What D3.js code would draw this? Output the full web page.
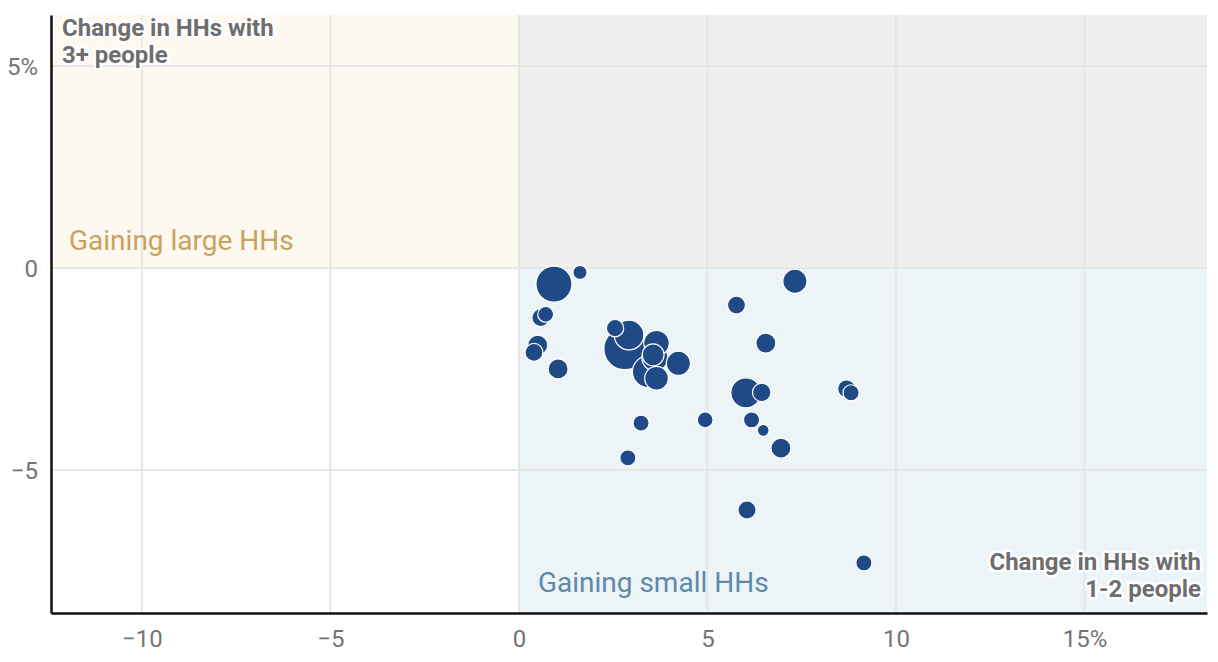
<!DOCTYPE html>
<html>
<head>
<meta charset="utf-8">
<script src="https://cdn.jsdelivr.net/npm/d3@7"></script>
<style>
  body { margin: 0; background: #fff; }
  text { font-family: Roboto, "Noto Sans", sans-serif; }
  .halo { paint-order: stroke; stroke: #fff; stroke-width: 5px; stroke-linejoin: round; }
</style>
</head>
<body>
<div id="viz"></div>
<script>
// change in households with 1-2 people (%)
const smallChange = [0.93, 1.62, 0.58, 0.71, 0.50, 0.40, 1.04, 2.81, 2.92, 2.55,
  3.65, 3.43, 3.61, 3.56, 3.65, 4.23, 5.77, 7.32, 6.55, 6.02,
  6.44, 8.69, 8.81, 4.94, 6.17, 6.48, 6.95, 3.24, 2.89, 6.05, 9.15];
// change in households with 3+ people (%)
const largeChange = [-0.40, -0.11, -1.23, -1.15, -1.91, -2.09, -2.50, -2.00, -1.66, -1.49,
  -1.86, -2.57, -2.23, -2.15, -2.73, -2.36, -0.92, -0.33, -1.86, -3.09,
  -3.08, -2.99, -3.09, -3.76, -3.76, -4.02, -4.46, -3.84, -4.70, -5.99, -7.30];
// households (thousands), bubble size
const households = [1300, 200, 320, 250, 400, 320, 400, 1760, 880, 300,
  650, 1000, 680, 480, 560, 580, 324, 580, 400, 900,
  340, 320, 260, 250, 260, 140, 400, 260, 260, 330, 260];

const xTicks = [-10, -5, 0, 5, 10, 15];
const yTicks = [-5, 0, 5];

const width = 1218;
const height = 662;
const margin = { top: 15, right: 11, bottom: 49, left: 51 };

const data = smallChange.map((d, i) => ({
  x: d,
  y: largeChange[i],
  size: households[i]
}));

const minus = (d) => String(d).replace("-", "\u2212");

const svg = d3
  .select("#viz")
  .append("svg")
  .attr("width", width)
  .attr("height", height);

const x = d3
  .scaleLinear()
  .domain([-12.41, 18.25])
  .range([margin.left, width - margin.right]);

const y = d3
  .scaleLinear()
  .domain([-8.54, 6.26])
  .range([height - margin.bottom, margin.top]);

const r = d3.scaleSqrt().domain([0, 2500]).range([0, 25]);

// quadrant backgrounds
const quadrants = [
  { x0: x.domain()[0], x1: 0, y0: 0, y1: y.domain()[1], fill: "#fdf8f0" },
  { x0: 0, x1: x.domain()[1], y0: 0, y1: y.domain()[1], fill: "#eff0ed" },
  { x0: 0, x1: x.domain()[1], y0: y.domain()[0], y1: 0, fill: "#edf4f8" }
];

svg
  .selectAll("rect.quad")
  .data(quadrants)
  .enter()
  .append("rect")
  .classed("quad", true)
  .attr("x", (d) => x(d.x0))
  .attr("y", (d) => y(d.y1))
  .attr("width", (d) => x(d.x1) - x(d.x0))
  .attr("height", (d) => y(d.y0) - y(d.y1))
  .attr("fill", (d) => d.fill);

// grid lines
svg
  .selectAll("line.xgrid")
  .data(xTicks)
  .enter()
  .append("line")
  .attr("x1", (d) => x(d))
  .attr("x2", (d) => x(d))
  .attr("y1", margin.top)
  .attr("y2", height - margin.bottom)
  .attr("stroke", "#e6e6e6")
  .attr("stroke-width", 2);

svg
  .selectAll("line.ygrid")
  .data(yTicks)
  .enter()
  .append("line")
  .attr("x1", margin.left)
  .attr("x2", width - margin.right)
  .attr("y1", (d) => y(d))
  .attr("y2", (d) => y(d))
  .attr("stroke", "#e6e6e6")
  .attr("stroke-width", 2);

// axes
const xAxis = svg
  .append("g")
  .attr("transform", `translate(0,${height - margin.bottom})`)
  .call(
    d3
      .axisBottom(x)
      .tickValues(xTicks)
      .tickSize(0)
      .tickPadding(17)
      .tickFormat((d) => (d === 15 ? "15%" : minus(d)))
  );
xAxis.select(".domain").attr("stroke", "#111").attr("stroke-width", 2.5);
xAxis.selectAll("text").attr("font-size", 24).attr("fill", "#757575");

const yAxis = svg
  .append("g")
  .attr("transform", `translate(${margin.left},0)`)
  .call(
    d3
      .axisLeft(y)
      .tickValues(yTicks)
      .tickSize(0)
      .tickPadding(13)
      .tickFormat((d) => (d === 5 ? "5%" : minus(d)))
  );
yAxis.select(".domain").attr("stroke", "#111").attr("stroke-width", 2.5);
yAxis.selectAll("text").attr("font-size", 24).attr("fill", "#757575").attr("dy", "0.35em");

// quadrant labels
svg
  .append("text")
  .attr("x", x(-12.41) + 18)
  .attr("y", y(0) - 18)
  .attr("font-size", 28)
  .attr("fill", "#c9a25c")
  .text("Gaining large HHs");

svg
  .append("text")
  .attr("x", x(0) + 19)
  .attr("y", height - margin.bottom - 21)
  .attr("font-size", 28)
  .attr("fill", "#5d89aa")
  .text("Gaining small HHs");

// bubbles
svg
  .selectAll("circle")
  .data(data.slice().sort((a, b) => b.size - a.size))
  .enter()
  .append("circle")
  .attr("cx", (d) => x(d.x))
  .attr("cy", (d) => y(d.y))
  .attr("r", (d) => r(d.size))
  .attr("fill", "#1f4a86")
  .attr("stroke", "#fff")
  .attr("stroke-width", 1.2);

// axis titles
const topTitle = svg
  .append("text")
  .classed("halo", true)
  .attr("x", margin.left + 11)
  .attr("y", 36)
  .attr("font-size", 24)
  .attr("font-weight", "bold")
  .attr("fill", "#6e6e6e");
topTitle.append("tspan").text("Change in HHs with");
topTitle.append("tspan").attr("x", margin.left + 11).attr("dy", 27).text("3+ people");

const rightTitle = svg
  .append("text")
  .classed("halo", true)
  .attr("x", width - margin.right - 6)
  .attr("y", 570)
  .attr("font-size", 24)
  .attr("font-weight", "bold")
  .attr("fill", "#6e6e6e")
  .style("text-anchor", "end");
rightTitle.append("tspan").text("Change in HHs with");
rightTitle.append("tspan").attr("x", width - margin.right - 6).attr("dy", 27).text("1-2 people");
</script>
</body>
</html>
